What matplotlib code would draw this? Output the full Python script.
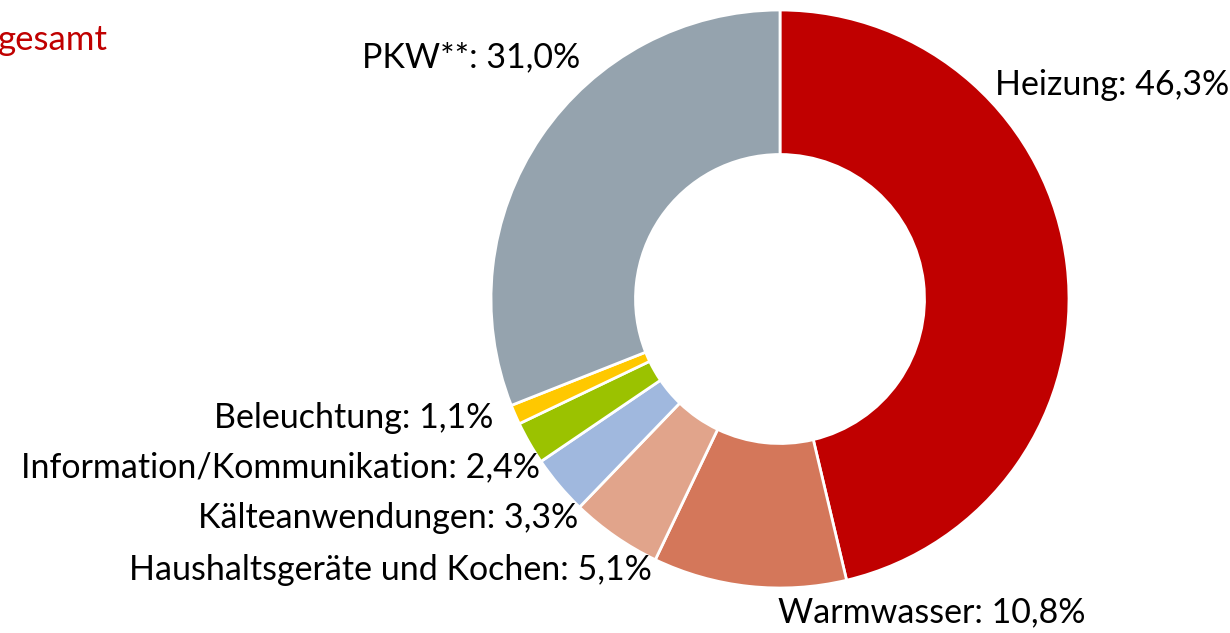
import matplotlib
matplotlib.use("Agg")
import matplotlib.pyplot as plt

# Endenergieverbrauch der privaten Haushalte
kategorien = ["Heizung", "Warmwasser", "Haushaltsgeräte und Kochen",
              "Kälteanwendungen", "Information/Kommunikation",
              "Beleuchtung", "PKW**"]
anteile = [46.3, 10.8, 5.1, 3.3, 2.4, 1.1, 31.0]
farben = ["#C00000", "#D4775A", "#E1A48B", "#A0B8DE", "#9BC200",
          "#FFC800", "#95A3AE"]

# Textposition (Pixel) und Ausrichtung je Beschriftung
label_pos = [(995, 85, "left"), (778, 612, "left"), (652, 570, "right"),
             (578, 518, "right"), (540, 467, "right"), (493, 418, "right"),
             (580, 57, "right")]

plt.rcParams['font.family'] = ['Lato', 'DejaVu Sans']

W, H = 1230, 633
fig = plt.figure(figsize=(W / 100, H / 100), dpi=100)

cx, cy, r = 780, 299, 289
ax = fig.add_axes([(cx - r) / W, (H - cy - r) / H, 2 * r / W, 2 * r / H])
ax.pie(anteile, colors=farben, startangle=90, counterclock=False,
       radius=1.0, wedgeprops=dict(width=0.5, edgecolor="white", linewidth=2))
ax.set_xlim(-1, 1)
ax.set_ylim(-1, 1)
ax.set_aspect("equal")
ax.axis("off")

for name, wert, (px, py, ha) in zip(kategorien, anteile, label_pos):
    txt = f"{name}: {wert:.1f}%".replace(".", ",")
    fig.text(px / W, 1 - py / H, txt, ha=ha, va="center", fontsize=24.5,
             color="black")

fig.text(-2 / W, 1 - 40 / H, "gesamt", ha="left", va="center", fontsize=25,
         color="#C00000")

fig.savefig("out.png", dpi=100)
